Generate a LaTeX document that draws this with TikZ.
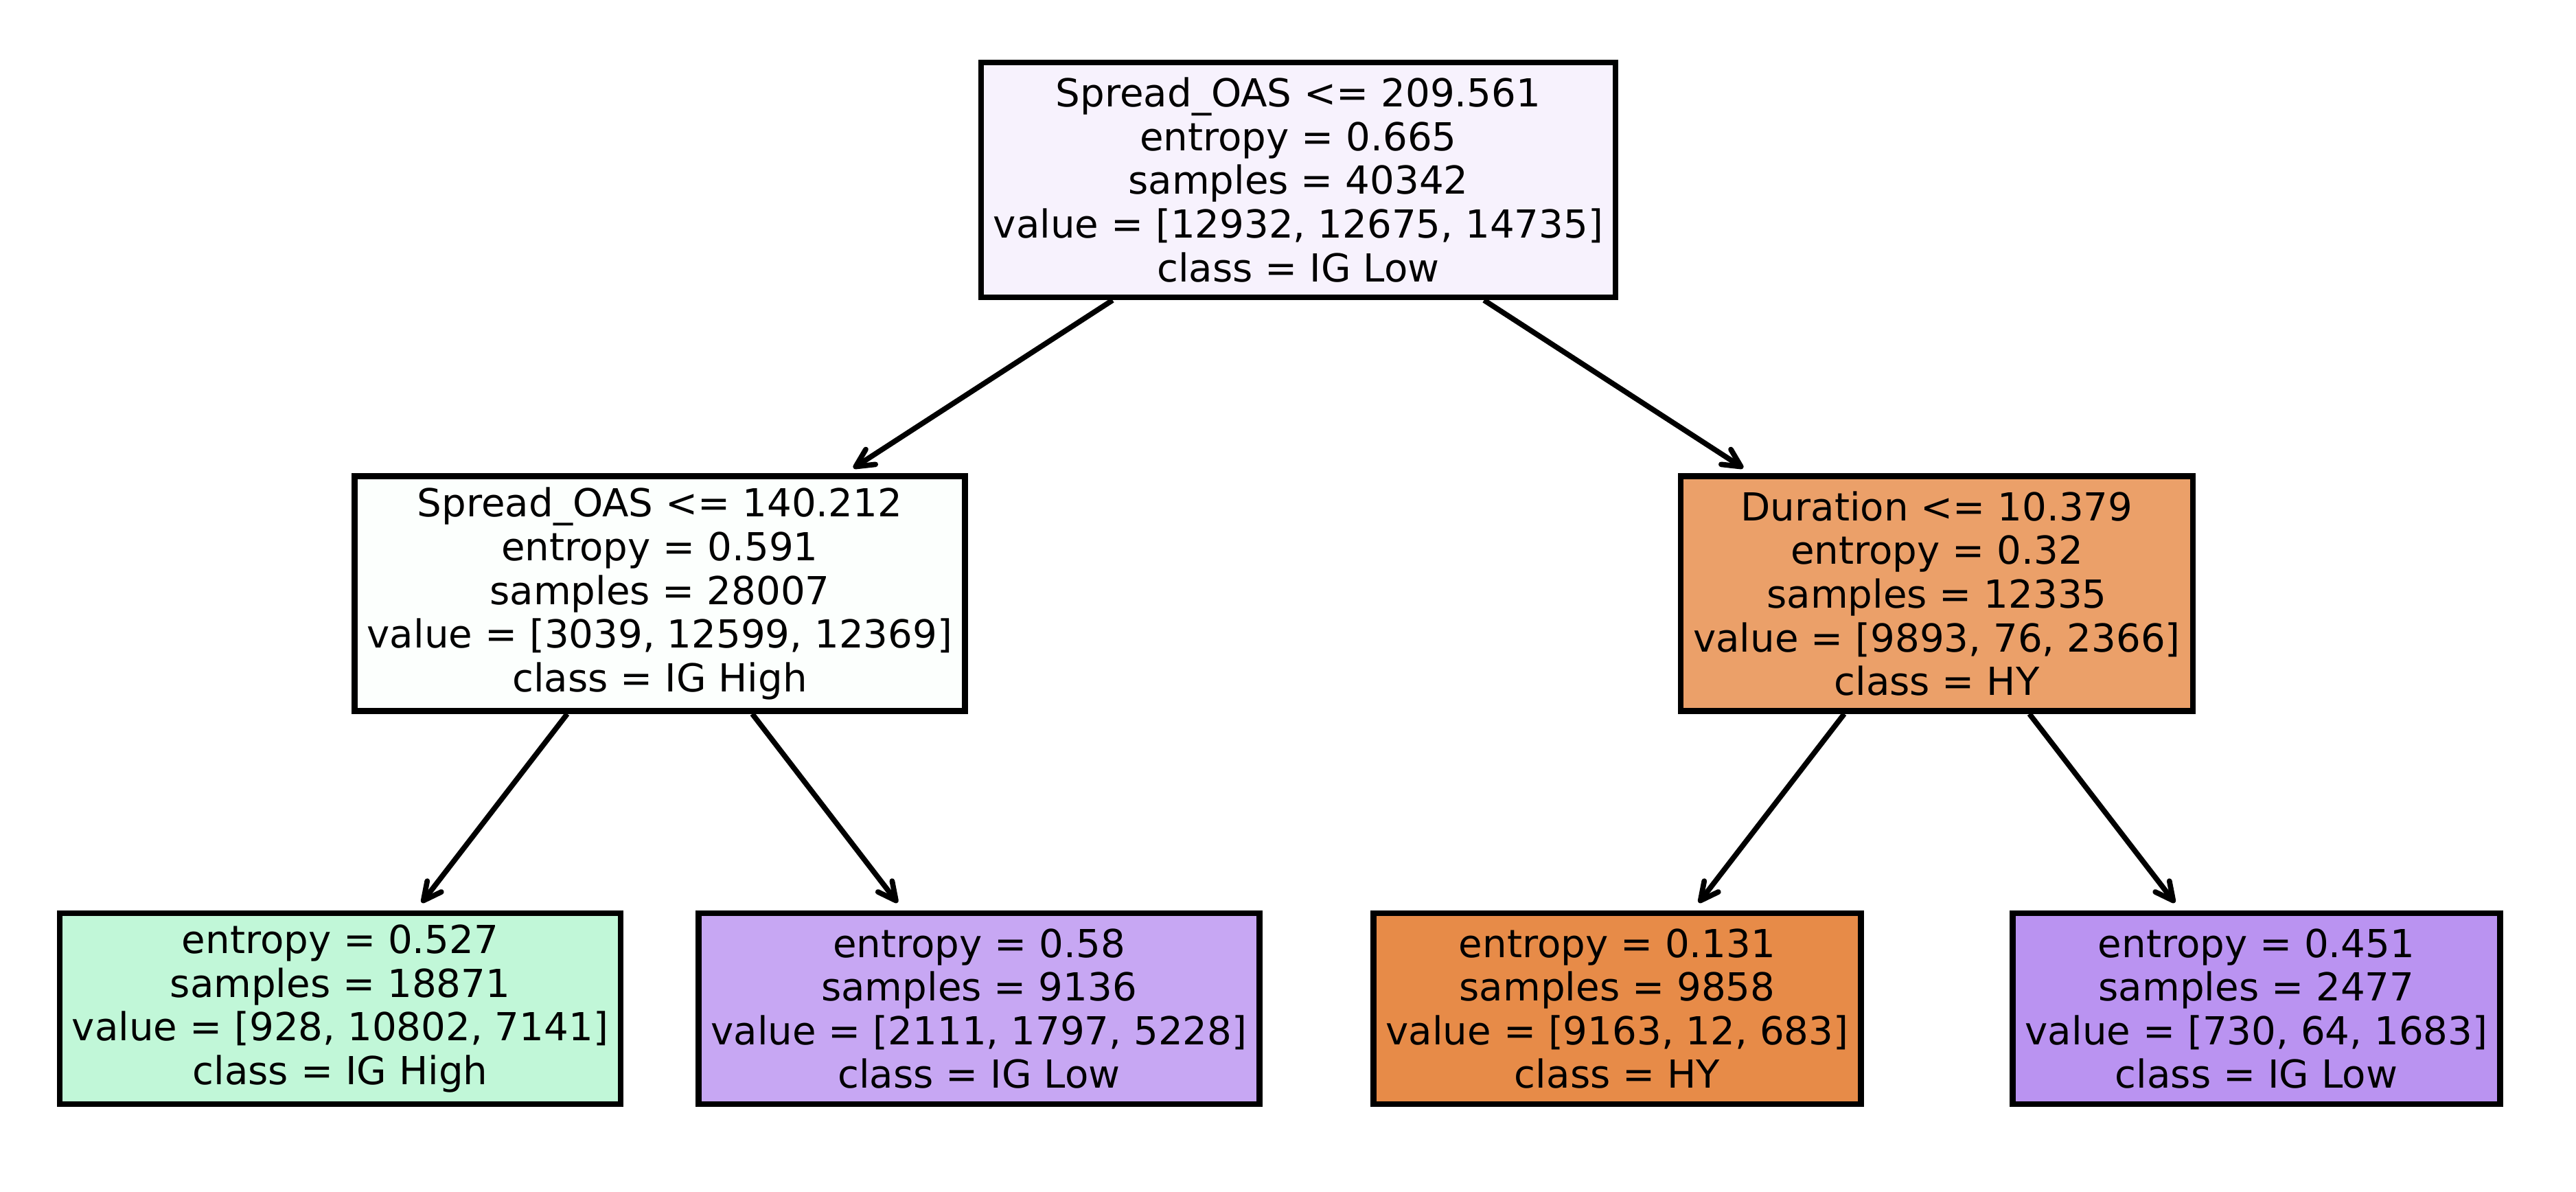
\documentclass[tikz,border=0pt]{standalone}
\usepackage{fontspec}
\setmainfont{DejaVu Sans}
\usetikzlibrary{arrows.meta,positioning}
\definecolor{rootc}{RGB}{247,242,253}
\definecolor{oasc}{RGB}{252,255,253}
\definecolor{durc}{RGB}{235,160,105}
\definecolor{highc}{RGB}{193,247,216}
\definecolor{lowac}{RGB}{199,167,243}
\definecolor{hyc}{RGB}{231,139,72}
\definecolor{lowbc}{RGB}{186,147,241}

\begin{document}
\begin{tikzpicture}[
  box/.style={draw,line width=2.4pt,align=center,font=\fontsize{16pt}{18.1pt}\selectfont,inner xsep=0.18cm,minimum height=3.42cm},
  leaf/.style={box,minimum height=2.78cm},
  arr/.style={-{Straight Barb[length=0.26cm,width=0.26cm,round]},line width=2.2pt,shorten >=0.14cm}]
\useasboundingbox (0,0) rectangle (37.52,-17.36);
\node[box,fill=rootc] (root) at (18.91,-2.62) {Spread\_OAS <= 209.561\\ entropy = 0.665\\ samples = 40342\\ value = [12932, 12675, 14735]\\ class = IG Low};
\node[box,fill=oasc] (oas) at (9.61,-8.645) {Spread\_OAS <= 140.212\\ entropy = 0.591\\ samples = 28007\\ value = [3039, 12599, 12369]\\ class = IG High};
\node[box,fill=durc] (dur) at (28.21,-8.645) {Duration <= 10.379\\ entropy = 0.32\\ samples = 12335\\ value = [9893, 76, 2366]\\ class = HY};
\node[leaf,fill=highc] (high) at (4.955,-14.69) {entropy = 0.527\\ samples = 18871\\ value = [928, 10802, 7141]\\ class = IG High};
\node[leaf,fill=lowac] (lowa) at (14.26,-14.69) {entropy = 0.58\\ samples = 9136\\ value = [2111, 1797, 5228]\\ class = IG Low};
\node[leaf,fill=hyc] (hy) at (23.555,-14.69) {entropy = 0.131\\ samples = 9858\\ value = [9163, 12, 683]\\ class = HY};
\node[leaf,fill=lowbc] (lowb) at (32.865,-14.69) {entropy = 0.451\\ samples = 2477\\ value = [730, 64, 1683]\\ class = IG Low};
\draw[arr] (root)--(oas); \draw[arr] (root)--(dur);
\draw[arr] (oas)--(high); \draw[arr] (oas)--(lowa);
\draw[arr] (dur)--(hy); \draw[arr] (dur)--(lowb);
\end{tikzpicture}
\end{document}
